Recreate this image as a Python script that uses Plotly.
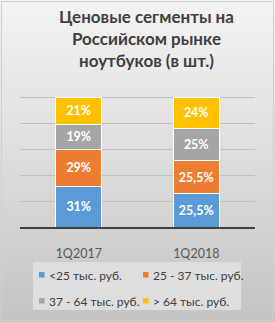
import plotly.graph_objects as go

categories = ["1Q2017", "1Q2018"]
series_names = ["<25 тыс. руб.", "25 - 37 тыс. руб.", "37 - 64 тыс. руб.", "> 64 тыс. руб."]
series_colors = ["#5b9bd5", "#ed7d31", "#a5a5a5", "#ffc000"]
seg_lt25 = [31, 25.5]
seg_25_37 = [29, 25.5]
seg_37_64 = [19, 25]
seg_gt64 = [21, 24]
series_values = [seg_lt25, seg_25_37, seg_37_64, seg_gt64]
title_lines = ["Ценовые сегменты на", "Российском рынке", "ноутбуков (в шт.)"]

FW, FH = 275, 322
L, R, T, B = 20, 20, 71, 95
W, H = FW - L - R, FH - T - B
FONT = "Lato, 'Open Sans', sans-serif"


def px_x(x):
    return (x - L) / W


def px_y(y):
    return (FH - B - y) / H


def fmt(v):
    s = f"{v:g}".replace(".", ",")
    return s + "%"


fig = go.Figure()
for name, color, vals in zip(series_names, series_colors, series_values):
    fig.add_trace(go.Bar(
        x=categories, y=vals, name=name,
        marker=dict(color=color, line=dict(color="white", width=1)),
        text=[fmt(v) for v in vals], textposition="inside",
        insidetextanchor="middle",
        textfont=dict(color="white", size=12.5, family=FONT, weight="bold"),
        showlegend=False,
    ))

shapes = []
# background gradient
n = 80
top_c, bot_c = 244, 196
for i in range(n):
    y0 = FH * i / n
    y1 = FH * (i + 1) / n + 0.6
    c = round(top_c + (bot_c - top_c) * (i + 0.5) / n)
    shapes.append(dict(type="rect", xref="paper", yref="paper", layer="below",
                       x0=px_x(0), x1=px_x(FW), y0=px_y(y0), y1=px_y(y1),
                       fillcolor=f"rgb({c},{c},{c})", line=dict(width=0)))
# border
shapes.append(dict(type="rect", xref="paper", yref="paper", layer="below",
                   x0=px_x(1.5), x1=px_x(FW - 1.5), y0=px_y(1.5), y1=px_y(FH - 1.5),
                   line=dict(color="#d0d0d0", width=1)))
# legend box
shapes.append(dict(type="rect", xref="paper", yref="paper", layer="below",
                   x0=px_x(33), x1=px_x(241), y0=px_y(262), y1=px_y(310),
                   fillcolor="#dedede", line=dict(width=0)))

annotations = [dict(xref="paper", yref="paper", x=px_x(146), y=px_y(4),
                    xanchor="center", yanchor="top", showarrow=False,
                    text="<br>".join(title_lines),
                    font=dict(family=FONT, size=17, color="#404040", weight="bold"))]
leg_pos = [(39, 275), (143, 275), (39, 301), (143, 301)]
for (lx, ly), name, color in zip(leg_pos, series_names, series_colors):
    shapes.append(dict(type="rect", xref="paper", yref="paper",
                       x0=px_x(lx), x1=px_x(lx + 5.5), y0=px_y(ly - 3), y1=px_y(ly + 2.5),
                       fillcolor=color, line=dict(width=0)))
    annotations.append(dict(xref="paper", yref="paper", x=px_x(lx + 8), y=px_y(ly),
                            xanchor="left", yanchor="middle", showarrow=False,
                            text=name, font=dict(family=FONT, size=12, color="#404040")))

fig.update_layout(
    width=FW, height=FH,
    margin=dict(l=L, r=R, t=T, b=B, pad=0),
    paper_bgcolor="#eeeeee", plot_bgcolor="rgba(0,0,0,0)",
    barmode="stack", bargap=0.61,
    separators=", ",
    xaxis=dict(showline=True, linecolor="#404040", linewidth=2,
               ticks="outside", ticklen=14, tickcolor="rgba(0,0,0,0)",
               tickfont=dict(family=FONT, size=12.5, color="#595959"),
               showgrid=False, fixedrange=True),
    yaxis=dict(range=[0, 120], dtick=20, showticklabels=False,
               showgrid=True, gridcolor="#c0c0c0", gridwidth=1,
               zeroline=False, fixedrange=True),
    shapes=shapes, annotations=annotations,
    showlegend=False,
)

fig.write_html("out.html", config=dict(displayModeBar=False))
